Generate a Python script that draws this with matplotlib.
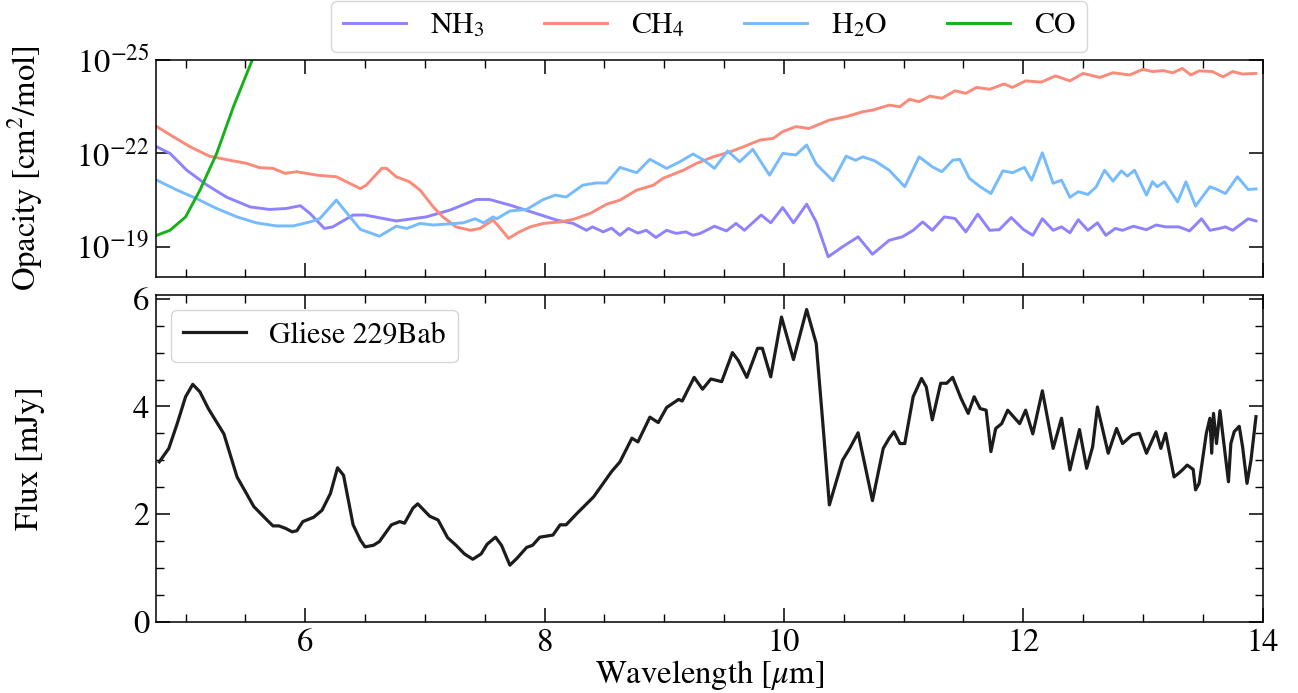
import numpy as np
import matplotlib
matplotlib.use('Agg')
import matplotlib.pyplot as plt
from matplotlib.ticker import FixedLocator, NullLocator, MultipleLocator

# opacity curves, log10 values
wl_co = [4.76, 4.87, 5.0, 5.12, 5.26, 5.40, 5.557, 5.70]
log_co = [-19.37, -19.53, -19.96, -20.82, -22.0, -23.5, -25.0, -26.5]

wl_nh3 = [4.76, 4.87, 5.01, 5.18, 5.34, 5.54, 5.70, 5.84, 5.96, 6.04, 6.16, 6.23,
          6.40, 6.50, 6.76, 7.01, 7.21, 7.43, 7.54, 7.71, 7.93, 8.10, 8.24, 8.35,
          8.40, 8.49, 8.56, 8.63, 8.70, 8.78, 8.85, 8.93, 9.02, 9.10, 9.18, 9.24,
          9.30, 9.42, 9.52, 9.60, 9.67, 9.81, 9.89, 9.99, 10.08, 10.19, 10.27,
          10.37, 10.49, 10.62, 10.74, 10.88, 10.99, 11.08, 11.16, 11.24, 11.34,
          11.43, 11.52, 11.62, 11.72, 11.80, 11.90, 12.00, 12.08, 12.16, 12.25,
          12.32, 12.39, 12.46, 12.54, 12.62, 12.69, 12.77, 12.83, 12.92, 13.03,
          13.11, 13.19, 13.30, 13.39, 13.49, 13.56, 13.64, 13.69, 13.75, 13.88, 13.945]
log_nh3 = [-22.21, -22.0, -21.46, -20.98, -20.6, -20.28, -20.2, -20.23, -20.32, -20.07,
           -19.59, -19.64, -20.02, -20.02, -19.83, -19.96, -20.18, -20.52, -20.52,
           -20.34, -20.07, -19.86, -19.75, -19.53, -19.64, -19.48, -19.6, -19.37,
           -19.59, -19.44, -19.53, -19.3, -19.53, -19.43, -19.48, -19.37, -19.43,
           -19.66, -19.51, -19.75, -19.53, -20.02, -19.77, -20.26, -19.77, -20.37,
           -19.8, -18.68, -19.0, -19.32, -18.76, -19.21, -19.32, -19.53, -19.8,
           -19.53, -19.96, -19.91, -19.48, -20.05, -19.53, -19.55, -19.94, -19.56,
           -19.37, -19.9, -19.53, -19.64, -19.45, -19.87, -19.53, -19.77, -19.37,
           -19.59, -19.53, -19.66, -19.55, -19.7, -19.64, -19.64, -19.51, -19.9,
           -19.53, -19.59, -19.64, -19.53, -19.9, -19.83]

wl_ch4 = [4.76, 4.90, 5.04, 5.20, 5.37, 5.51, 5.62, 5.73, 5.83, 5.93, 6.10, 6.26,
          6.37, 6.46, 6.51, 6.64, 6.68, 6.76, 6.87, 6.96, 7.07, 7.15, 7.26, 7.38,
          7.46, 7.57, 7.62, 7.70, 7.79, 7.88, 7.99, 8.13, 8.24, 8.38, 8.52, 8.63,
          8.77, 8.91, 8.99, 9.16, 9.27, 9.41, 9.55, 9.66, 9.80, 9.91, 9.99, 10.10,
          10.21, 10.38, 10.52, 10.66, 10.74, 10.88, 10.97, 11.05, 11.13, 11.22,
          11.32, 11.43, 11.52, 11.61, 11.72, 11.84, 11.91, 12.02, 12.15, 12.27,
          12.39, 12.50, 12.64, 12.75, 12.89, 13.00, 13.08, 13.17, 13.25, 13.33,
          13.40, 13.47, 13.58, 13.67, 13.75, 13.83, 13.945]
log_ch4 = [-22.86, -22.53, -22.21, -21.91, -21.78, -21.68, -21.54, -21.52, -21.36,
           -21.41, -21.3, -21.25, -21.04, -20.87, -20.98, -21.52, -21.52, -21.25,
           -21.09, -20.82, -20.28, -19.96, -19.64, -19.53, -19.59, -19.86, -19.64,
           -19.27, -19.48, -19.64, -19.75, -19.8, -19.88, -20.07, -20.37, -20.5,
           -20.82, -20.98, -21.2, -21.46, -21.68, -21.89, -22.05, -22.21, -22.43,
           -22.48, -22.7, -22.86, -22.8, -23.07, -23.18, -23.34, -23.39, -23.55,
           -23.5, -23.74, -23.66, -23.84, -23.77, -24.01, -23.93, -24.12, -24.06,
           -24.23, -24.12, -24.33, -24.29, -24.49, -24.33, -24.57, -24.44, -24.59,
           -24.52, -24.7, -24.63, -24.66, -24.59, -24.73, -24.52, -24.65, -24.63,
           -24.46, -24.63, -24.55, -24.57]

wl_h2o = [4.76, 4.93, 5.09, 5.26, 5.43, 5.59, 5.76, 5.90, 6.04, 6.12, 6.26, 6.34,
          6.46, 6.62, 6.76, 6.85, 6.96, 7.07, 7.18, 7.32, 7.42, 7.49, 7.57, 7.60,
          7.71, 7.85, 7.99, 8.09, 8.18, 8.32, 8.43, 8.52, 8.63, 8.77, 8.88, 9.02,
          9.13, 9.24, 9.32, 9.42, 9.53, 9.63, 9.74, 9.88, 9.99, 10.10, 10.19, 10.27,
          10.41, 10.52, 10.60, 10.66, 10.76, 10.88, 11.01, 11.13, 11.24, 11.32,
          11.41, 11.47, 11.55, 11.64, 11.73, 11.83, 11.91, 12.01, 12.07, 12.16,
          12.25, 12.32, 12.39, 12.46, 12.54, 12.61, 12.68, 12.75, 12.82, 12.87,
          12.93, 13.03, 13.08, 13.12, 13.18, 13.29, 13.36, 13.44, 13.56, 13.62,
          13.69, 13.79, 13.88, 13.945]
log_h2o = [-21.14, -20.82, -20.55, -20.23, -19.96, -19.77, -19.67, -19.67, -19.8,
           -19.9, -20.5, -20.12, -19.56, -19.34, -19.66, -19.59, -19.75, -19.7,
           -19.73, -19.77, -19.9, -19.77, -19.96, -19.9, -20.15, -20.2, -20.52,
           -20.66, -20.6, -20.98, -21.05, -21.05, -21.55, -21.38, -21.81, -21.52,
           -21.73, -21.98, -21.81, -21.52, -22.08, -21.73, -22.13, -21.3, -22.0,
           -21.95, -22.27, -21.66, -21.12, -21.91, -21.78, -21.89, -21.76, -21.46,
           -20.93, -21.89, -21.57, -21.41, -21.78, -21.81, -21.2, -20.93, -20.71,
           -21.44, -21.38, -21.55, -21.14, -22.02, -21.04, -21.14, -20.59, -20.77,
           -20.68, -20.93, -21.46, -21.11, -21.44, -21.27, -21.46, -20.66, -21.09,
           -20.93, -21.09, -20.44, -21.09, -20.31, -20.93, -20.84, -20.71, -21.25,
           -20.84, -20.86]

# Gliese 229Bab spectrum (mJy)
wl_obs = [4.78, 4.86, 4.93, 5.00, 5.06, 5.12, 5.19, 5.32, 5.43, 5.57, 5.68, 5.73,
          5.78, 5.84, 5.89, 5.93, 5.98, 6.07, 6.14, 6.21, 6.27, 6.32, 6.40, 6.46,
          6.50, 6.57, 6.62, 6.72, 6.79, 6.83, 6.90, 6.94, 7.04, 7.11, 7.19, 7.26,
          7.33, 7.40, 7.47, 7.52, 7.59, 7.64, 7.71, 7.77, 7.85, 7.90, 7.96, 8.07,
          8.13, 8.18, 8.27, 8.41, 8.50, 8.56, 8.63, 8.73, 8.78, 8.88, 8.95, 9.02,
          9.08, 9.12, 9.15, 9.25, 9.32, 9.39, 9.48, 9.57, 9.62, 9.69, 9.78, 9.82,
          9.89, 9.98, 10.08, 10.19, 10.27, 10.33, 10.38, 10.49, 10.55, 10.62,
          10.74, 10.83, 10.88, 10.92, 10.97, 11.01, 11.08, 11.15, 11.19, 11.24,
          11.31, 11.36, 11.41, 11.48, 11.54, 11.59, 11.64, 11.69, 11.73, 11.77,
          11.82, 11.87, 11.97, 12.02, 12.08, 12.16, 12.25, 12.32, 12.39, 12.47,
          12.53, 12.58, 12.62, 12.71, 12.78, 12.83, 12.91, 12.97, 13.03, 13.11,
          13.15, 13.19, 13.26, 13.30, 13.33, 13.37, 13.42, 13.44, 13.47, 13.53,
          13.56, 13.575, 13.59, 13.615, 13.644, 13.694, 13.715, 13.735, 13.763,
          13.805, 13.833, 13.87, 13.903, 13.922, 13.945]
flux_obs = [2.97, 3.22, 3.68, 4.18, 4.41, 4.27, 3.96, 3.49, 2.69, 2.14, 1.89, 1.78,
            1.78, 1.73, 1.67, 1.69, 1.86, 1.94, 2.07, 2.38, 2.86, 2.72, 1.8, 1.52,
            1.39, 1.42, 1.49, 1.8, 1.86, 1.83, 2.11, 2.19, 1.96, 1.89, 1.56, 1.42,
            1.26, 1.16, 1.26, 1.44, 1.57, 1.42, 1.05, 1.18, 1.38, 1.42, 1.57, 1.61,
            1.8, 1.8, 2.01, 2.32, 2.6, 2.79, 2.97, 3.41, 3.34, 3.8, 3.7, 3.98,
            4.07, 4.13, 4.1, 4.54, 4.32, 4.51, 4.46, 5.0, 4.85, 4.54, 5.08, 5.08,
            4.55, 5.66, 4.87, 5.8, 5.17, 3.56, 2.17, 3.0, 3.22, 3.51,
            2.25, 3.22, 3.41, 3.53, 3.31, 3.31, 4.18, 4.52, 4.36, 3.75,
            4.43, 4.43, 4.54, 4.15, 3.87, 4.18, 3.96, 3.93, 3.16, 3.59,
            3.68, 3.93, 3.68, 3.93, 3.49, 4.29, 3.22, 3.78, 2.82, 3.57,
            2.85, 3.25, 3.99, 3.13, 3.59, 3.31, 3.47, 3.5, 3.13, 3.53,
            3.22, 3.5, 2.69, 2.76, 2.82, 2.91, 2.83, 2.45, 2.57, 3.5,
            3.78, 3.13, 3.87, 3.31, 3.92, 3.0, 2.6, 3.31, 3.53,
            3.63, 3.25, 2.57, 3.0, 3.37, 3.81]

plt.rcParams['font.family'] = 'STIXGeneral'
plt.rcParams['mathtext.fontset'] = 'stix'
plt.rcParams['font.size'] = 23.5
plt.rcParams['axes.linewidth'] = 1.1

fig = plt.figure(figsize=(12.98, 6.93), dpi=100)
ax1 = fig.add_axes([0.1202, 0.6003, 0.8525, 0.3131])
ax2 = fig.add_axes([0.1202, 0.1029, 0.8525, 0.4714], sharex=ax1)

lw = 2.1
ax1.plot(wl_nh3, 10 ** np.array(log_nh3), color='#8e82fe', lw=lw, label='NH$_3$')
ax1.plot(wl_ch4, 10 ** np.array(log_ch4), color='#fa8a7a', lw=lw, label='CH$_4$')
ax1.plot(wl_h2o, 10 ** np.array(log_h2o), color='#75bbfd', lw=lw, label='H$_2$O')
ax1.plot(wl_co, 10 ** np.array(log_co), color='#15b01a', lw=lw, label='CO')
ax1.set_yscale('log')
ax1.set_ylim(10 ** -18.03, 1e-25)
ax1.yaxis.set_major_locator(FixedLocator([1e-25, 1e-22, 1e-19]))
ax1.yaxis.set_minor_locator(NullLocator())
ax1.set_ylabel('Opacity [cm$^2$/mol]')
ax1.legend(loc='lower center', bbox_to_anchor=(0.5, 1.035), ncol=4,
           borderaxespad=0, handlelength=2.1, columnspacing=2.0, fontsize=21.5)
plt.setp(ax1.get_xticklabels(), visible=False)

ax2.plot(wl_obs, flux_obs, color='#1c1c1c', lw=2.3, label='Gliese 229Bab')
ax2.set_ylim(0, 6.07)
ax2.yaxis.set_major_locator(MultipleLocator(2))
ax2.yaxis.set_minor_locator(MultipleLocator(0.5))
ax2.set_ylabel('Flux [mJy]')
ax2.set_xlabel(r'Wavelength [$\mu$m]', labelpad=0)
ax2.legend(loc='upper left', handlelength=2.1, fontsize=21.5)

ax2.set_xlim(4.753, 14)
ax2.xaxis.set_major_locator(MultipleLocator(2))
ax2.xaxis.set_minor_locator(MultipleLocator(0.5))

for ax in (ax1, ax2):
    ax.tick_params(which='both', direction='in', top=True, right=True)
    ax.tick_params(which='major', length=10, width=1.1, pad=5)
    ax.tick_params(which='minor', length=5.5, width=1.0)
    ax.yaxis.set_label_coords(-0.1, 0.5)

fig.savefig('out.png', dpi=100)
